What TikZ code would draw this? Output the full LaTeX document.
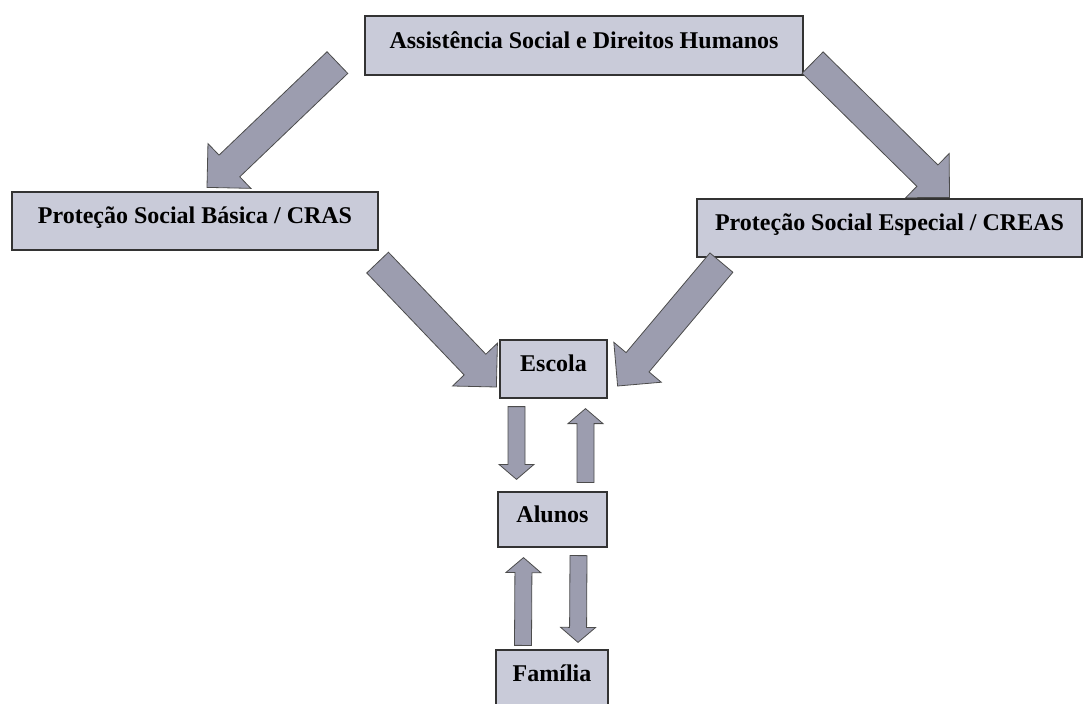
\documentclass[tikz,border=0pt]{standalone}
\usepackage{fontspec}
\setmainfont{Liberation Serif}
\usetikzlibrary{calc}
\definecolor{boxfill}{HTML}{C9CBD9}
\definecolor{arrowfill}{HTML}{9C9DAF}
% block arrow: tail, tip, shaft half width, head half width, head length
\newcommand{\blockarrow}[5]{%
  \coordinate (ba) at ($(#2)!#5!(#1)$);
  \draw[barrow] ($(#1)!#3!90:(#2)$) -- ($(ba)!#3!90:(#2)$) -- ($(ba)!#4!90:(#2)$) -- (#2)
    -- ($(ba)!#4!-90:(#2)$) -- ($(ba)!#3!-90:(#2)$) -- ($(#1)!#3!-90:(#2)$) -- cycle;}
\newcommand{\bigarrow}[2]{\blockarrow{#1}{#2}{15pt}{31pt}{31pt}}
\newcommand{\smallarrow}[2]{\blockarrow{#1}{#2}{8.5pt}{17.5pt}{15pt}}

\begin{document}
\begin{tikzpicture}[x=1pt,y=-1pt,
    caixa/.style={draw=black!80, line width=1.2pt, fill=boxfill, inner sep=0pt,
      font=\bfseries\fontsize{24}{28}\selectfont, text height=17pt, text depth=12pt},
    barrow/.style={draw=black!70, line width=0.8pt, fill=arrowfill, line join=miter}]
\useasboundingbox (0,0) rectangle (1085,704);
\clip (0,0) rectangle (1085,704);

\node[caixa, minimum width=438, minimum height=59] (asdh) at (584,45.5) {Assistência Social e Direitos Humanos};
\node[caixa, minimum width=366, minimum height=58] (pb) at (195,221) {Proteção Social Básica / CRAS};
\node[caixa, minimum width=385, minimum height=58] (pe) at (889.5,228) {Proteção Social Especial / CREAS};
\node[caixa, minimum width=107, minimum height=58] (escola) at (553.5,369) {Escola};
\node[caixa, minimum width=109, minimum height=55] (alunos) at (552.5,519.5) {Alunos};
\node[caixa, minimum width=112, minimum height=58] (familia) at (552,679) {Família};

% arrow ends
\coordinate (t1) at ($(asdh.south west)+(-27,-13)$);
\coordinate (h1) at ($(pb.north)+(12,-4)$);
\coordinate (t2) at ($(asdh.south east)+(9,-13)$);
\coordinate (h2) at ($(pe.north)+(60,-1)$);
\coordinate (t3) at ($(pb.south east)+(-1,12)$);
\coordinate (h3) at ($(escola.west)+(-3,18)$);
\coordinate (t4) at ($(pe.south west)+(25,5)$);
\coordinate (h4) at ($(escola.east)+(10,17)$);
\coordinate (t5) at ($(escola.south)+(-37,8)$);
\coordinate (h5) at ($(alunos.north)+(-36,-12)$);
\coordinate (t6) at ($(alunos.north)+(33,-9)$);
\coordinate (h6) at ($(escola.south)+(32,10)$);
\coordinate (t7) at ($(familia.north)+(-29,-4)$);
\coordinate (h7) at ($(alunos.south)+(-29,10)$);
\coordinate (t8) at ($(alunos.south)+(26,8)$);
\coordinate (h8) at ($(familia.north)+(26,-7)$);

\bigarrow{t1}{h1}
\bigarrow{t2}{h2}
\bigarrow{t3}{h3}
\bigarrow{t4}{h4}
\smallarrow{t5}{h5}
\smallarrow{t6}{h6}
\smallarrow{t7}{h7}
\smallarrow{t8}{h8}
\end{tikzpicture}
\end{document}
